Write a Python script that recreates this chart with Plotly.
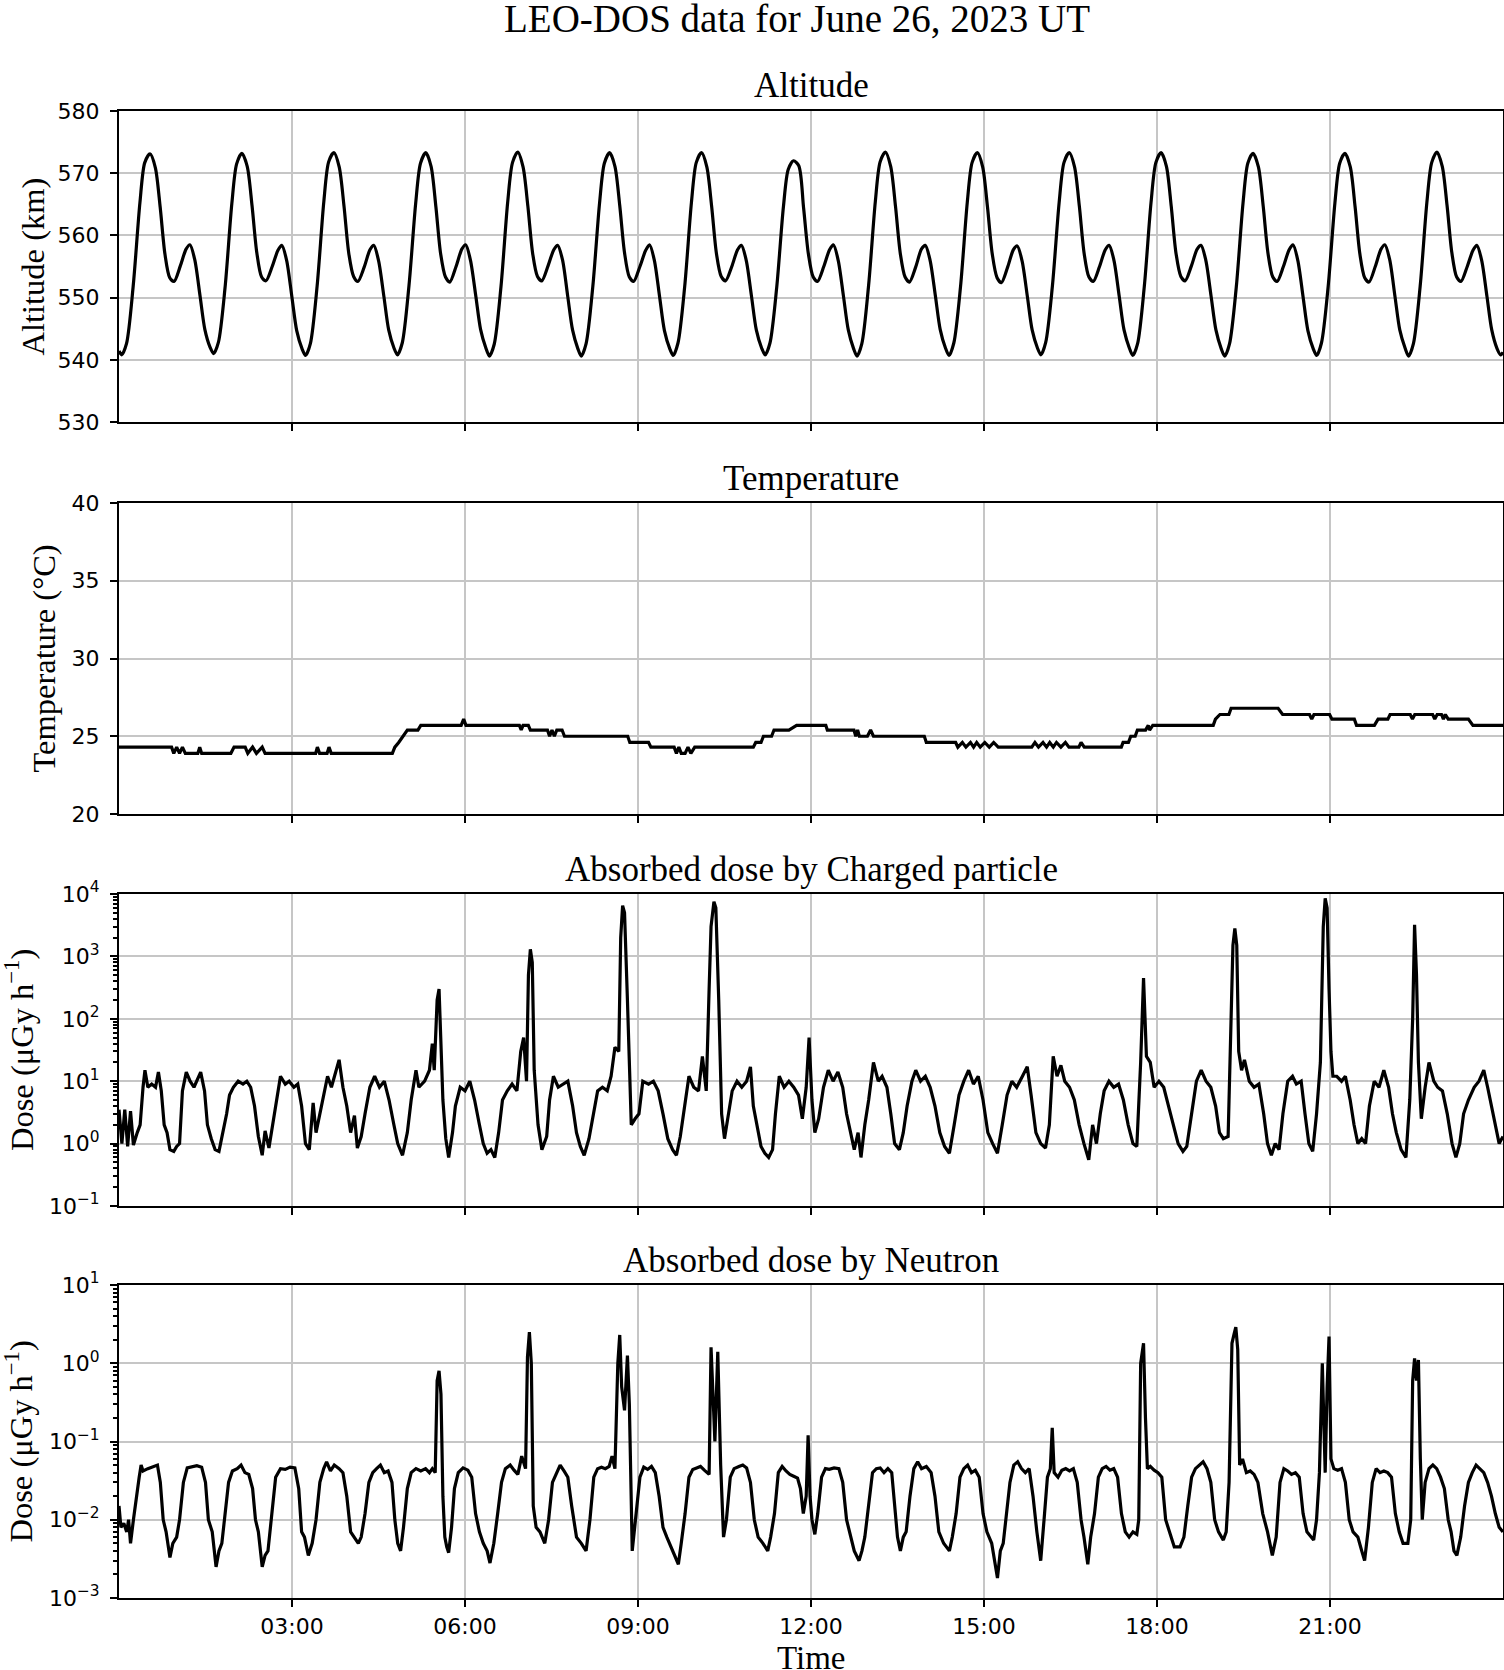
import pandas as pd
import plotly.graph_objects as go

DAY = pd.Timestamp("2023-06-26")
HOUR_TICKS = ["03:00", "06:00", "09:00", "12:00", "15:00", "18:00", "21:00"]
TICK_HOURS = [3, 6, 9, 12, 15, 18, 21]

# ---------------- Altitude (minutes of day, km) ----------------
alt_min = [0,
 2.8, 7.8, 14.8, 21.8, 26.8, 32.3, 37.8, 42.8, 47.8, 52.8, 57.3, 63.8, 69.8, 73.8, 78.8, 84.3, 89.3, 94.8,
 98.4, 103.4, 110.4, 117.4, 122.4, 127.9, 133.4, 138.4, 143.4, 148.4, 152.9, 159.4, 165.4, 169.4, 174.4, 179.9, 184.9, 190.4,
 194.1, 199.1, 206.1, 213.1, 218.1, 223.6, 229.1, 234.1, 239.1, 244.1, 248.6, 255.1, 261.1, 265.1, 270.1, 275.6, 280.6, 286.1,
 289.7, 294.7, 301.7, 308.7, 313.7, 319.2, 324.7, 329.7, 334.7, 339.7, 344.2, 350.7, 356.7, 360.7, 365.7, 371.2, 376.2, 381.7,
 385.4, 390.4, 397.4, 404.4, 409.4, 414.9, 420.4, 425.4, 430.4, 435.4, 439.9, 446.4, 452.4, 456.4, 461.4, 466.9, 471.9, 477.4,
 481.0, 486.0, 493.0, 500.0, 505.0, 510.5, 516.0, 521.0, 526.0, 531.0, 535.5, 542.0, 548.0, 552.0, 557.0, 562.5, 567.5, 573.0,
 576.6, 581.6, 588.6, 595.6, 600.6, 606.1, 611.6, 616.6, 621.6, 626.6, 631.1, 637.6, 643.6, 647.6, 652.6, 658.1, 663.1, 668.6,
 672.3, 677.3, 684.3, 691.3, 696.3, 701.8, 707.3, 712.3, 717.3, 722.3, 726.8, 733.3, 739.3, 743.3, 748.3, 753.8, 758.8, 764.3,
 767.9, 772.9, 779.9, 786.9, 791.9, 797.4, 802.9, 807.9, 812.9, 817.9, 822.4, 828.9, 834.9, 838.9, 843.9, 849.4, 854.4, 859.9,
 863.6, 868.6, 875.6, 882.6, 887.6, 893.1, 898.6, 903.6, 908.6, 913.6, 918.1, 924.6, 930.6, 934.6, 939.6, 945.1, 950.1, 955.6,
 959.2, 964.2, 971.2, 978.2, 983.2, 988.7, 994.2, 999.2, 1004.2, 1009.2, 1013.7, 1020.2, 1026.2, 1030.2, 1035.2, 1040.7, 1045.7, 1051.2,
 1054.8, 1059.8, 1066.8, 1073.8, 1078.8, 1084.3, 1089.8, 1094.8, 1099.8, 1104.8, 1109.3, 1115.8, 1121.8, 1125.8, 1130.8, 1136.3, 1141.3, 1146.8,
 1150.5, 1155.5, 1162.5, 1169.5, 1174.5, 1180.0, 1185.5, 1190.5, 1195.5, 1200.5, 1205.0, 1211.5, 1217.5, 1221.5, 1226.5, 1232.0, 1237.0, 1242.5,
 1246.1, 1251.1, 1258.1, 1265.1, 1270.1, 1275.6, 1281.1, 1286.1, 1291.1, 1296.1, 1300.6, 1307.1, 1313.1, 1317.1, 1322.1, 1327.6, 1332.6, 1338.1,
 1341.8, 1346.8, 1353.8, 1360.8, 1365.8, 1371.3, 1376.8, 1381.8, 1386.8, 1391.8, 1396.3, 1402.8, 1408.8, 1412.8, 1417.8, 1423.3, 1428.3, 1433.8,
 1437.4, 1440]
alt_km = [541.4,
 540.8, 542.6, 551.9, 565.3, 571.7, 573.1, 570.9, 564.6, 557.0, 553.2, 552.6, 555.1, 557.8, 558.5, 556.1, 550.3, 544.9, 542.0,
 541.0, 542.8, 551.7, 565.1, 571.5, 573.2, 571.1, 564.8, 557.2, 553.3, 552.7, 555.0, 557.6, 558.4, 556.0, 550.1, 544.7, 541.8,
 540.7, 542.6, 551.8, 565.4, 571.8, 573.3, 571.0, 564.7, 557.1, 553.4, 552.6, 554.9, 557.7, 558.4, 555.9, 550.2, 544.8, 541.9,
 540.8, 542.7, 551.9, 565.2, 571.6, 573.3, 571.1, 564.6, 557.0, 553.3, 552.5, 555.0, 557.8, 558.5, 556.0, 550.3, 544.9, 541.9,
 540.6, 542.5, 551.7, 565.3, 571.7, 573.4, 571.0, 564.7, 557.1, 553.4, 552.7, 555.1, 557.7, 558.4, 556.1, 550.2, 544.8, 541.8,
 540.6, 542.6, 551.8, 565.2, 571.6, 573.3, 571.1, 564.8, 557.2, 553.3, 552.6, 555.0, 557.6, 558.5, 556.0, 550.1, 544.7, 541.8,
 540.7, 542.7, 551.8, 565.3, 571.7, 573.3, 571.0, 564.7, 557.1, 553.4, 552.7, 555.0, 557.7, 558.4, 556.0, 550.2, 544.8, 541.9,
 540.8, 542.7, 551.6, 564.6, 570.6, 572.0, 571.2, 564.4, 557.0, 553.3, 552.6, 555.0, 557.7, 558.5, 556.0, 550.2, 544.8, 541.8,
 540.6, 542.6, 551.9, 565.4, 571.8, 573.4, 571.1, 564.7, 557.1, 553.3, 552.5, 554.9, 557.8, 558.4, 556.0, 550.3, 544.9, 541.9,
 540.7, 542.7, 551.8, 565.3, 571.7, 573.3, 571.0, 564.6, 557.0, 553.2, 552.4, 554.9, 557.7, 558.3, 555.9, 550.2, 544.8, 541.9,
 540.8, 542.8, 551.9, 565.3, 571.7, 573.3, 571.0, 564.7, 557.1, 553.3, 552.6, 555.0, 557.7, 558.4, 556.0, 550.2, 544.8, 541.9,
 540.7, 542.6, 551.8, 565.3, 571.7, 573.3, 571.1, 564.7, 557.1, 553.4, 552.7, 555.1, 557.8, 558.4, 556.0, 550.2, 544.8, 541.8,
 540.6, 542.6, 551.7, 565.2, 571.6, 573.2, 571.0, 564.7, 557.1, 553.3, 552.6, 555.0, 557.7, 558.5, 556.0, 550.1, 544.7, 541.8,
 540.7, 542.7, 551.8, 565.2, 571.6, 573.2, 571.0, 564.6, 557.0, 553.2, 552.5, 555.0, 557.8, 558.5, 556.1, 550.2, 544.8, 541.9,
 540.6, 542.6, 551.8, 565.3, 571.7, 573.4, 571.1, 564.8, 557.2, 553.3, 552.6, 555.0, 557.6, 558.4, 556.0, 550.2, 544.8, 541.8,
 540.8, 541.2]

# ---------------- Temperature (minutes of day, deg C) ----------------
temp_min = [0, 54.7, 57, 60, 63, 66, 69, 82, 84, 86,
 116.4, 119.7, 131.3, 134, 139, 143, 149, 152,
 204.6, 206.4, 208.7, 216.5, 218.5, 220.8,
 284.4, 287, 291, 295.5, 300, 311, 314,
 356, 358.6, 361,
 416.6, 418.5, 420.4, 425.9, 428, 445.8, 448, 450.5, 453, 455.5, 461, 463.5,
 529.3, 531.5, 551, 553.4, 577.6, 580, 582.5, 585, 589, 592, 595, 599,
 660, 662.5, 668, 670.5, 679, 681.5, 697, 705,
 735.4, 737, 764.7, 766.6, 768.5, 770.3, 778.7, 782, 785, 837.9, 840, 870.5,
 872.8, 877.5, 881.2, 885.9, 889.2, 892.4, 896.1, 900.8, 905.5, 910.1, 914.8,
 949.7, 953, 956.7, 961.4, 965.1, 968.4, 972.1, 975.4, 980, 984.7, 988.4,
 998.7, 1001, 1004.3, 1042.9, 1044.7, 1050.3, 1052.7, 1057.3, 1059.6, 1068.1, 1070.9, 1072.3, 1075.6,
 1138.5, 1140.8, 1145.5, 1154.8, 1157.1, 1206, 1210.7, 1238.7, 1241, 1243.3, 1259.6, 1262, 1285.3, 1287.6,
 1306.2, 1310, 1320.2, 1322.5, 1343.5, 1345.8, 1348.2, 1366.8, 1369, 1371.5, 1376, 1378, 1380, 1383,
 1404, 1408.7, 1440]
temp_c = [24.3, 24.3, 23.9, 24.3, 23.9, 24.3, 23.9, 23.9, 24.3, 23.9,
 23.9, 24.3, 24.3, 23.9, 24.3, 23.9, 24.3, 23.9,
 23.9, 24.3, 23.9, 23.9, 24.3, 23.9,
 23.9, 24.3, 24.6, 25.0, 25.4, 25.4, 25.7,
 25.7, 26.1, 25.7,
 25.7, 25.4, 25.7, 25.7, 25.4, 25.4, 25.0, 25.4, 25.0, 25.4, 25.4, 25.0,
 25.0, 24.6, 24.6, 24.3, 24.3, 23.9, 24.3, 23.9, 23.9, 24.3, 23.9, 24.3,
 24.3, 24.6, 24.6, 25.0, 25.0, 25.4, 25.4, 25.7,
 25.7, 25.4, 25.4, 25.0, 25.4, 25.0, 25.0, 25.4, 25.0, 25.0, 24.6, 24.6,
 24.3, 24.6, 24.3, 24.6, 24.3, 24.6, 24.3, 24.6, 24.3, 24.6, 24.3,
 24.3, 24.6, 24.3, 24.6, 24.3, 24.6, 24.3, 24.6, 24.3, 24.6, 24.3,
 24.3, 24.6, 24.3, 24.3, 24.6, 24.6, 25.0, 25.0, 25.4, 25.4, 25.7, 25.4, 25.7,
 25.7, 26.1, 26.4, 26.4, 26.8, 26.8, 26.4, 26.4, 26.1, 26.4, 26.4, 26.1, 26.1, 25.7,
 25.7, 26.1, 26.1, 26.4, 26.4, 26.1, 26.4, 26.4, 26.1, 26.4, 26.4, 26.1, 26.4, 26.1,
 26.1, 25.7, 25.7]

# ---------------- Charged-particle dose (minutes of day, uGy/h) ----------------
chg_min = [
 0, 3, 6, 9, 12, 15, 19, 22, 25, 27, 30, 34, 38, 41, 44, 47, 50, 53, 57, 60,
 63, 66, 70, 74, 78, 81, 85, 89, 92, 96, 100,
 104, 108, 112, 115, 119, 124, 129, 133, 137, 141,
 145, 149, 152, 156, 160, 164, 168, 173, 177, 182,
 186, 190, 194, 198, 202, 205, 209, 213, 217, 221,
 225, 229, 233, 237, 241, 245, 248, 252, 256, 261,
 266, 271, 276, 281, 286, 290, 295, 300, 304, 309,
 312, 318, 323, 326, 328, 331, 333, 335, 337, 340, 343,
 347, 350, 355, 360, 365, 370, 375, 379, 383, 387,
 391, 395, 399, 404, 409, 414, 418, 421, 424, 426,
 428, 430, 432, 436, 440, 445, 448, 452, 457, 462,
 467, 472, 476, 480, 484, 489, 494, 498, 503, 508,
 512, 516, 520, 522, 524, 526, 529, 533, 537, 541,
 545, 551, 556, 561, 566, 571, 576, 580, 584, 589,
 593, 598, 603, 607, 611, 614, 616, 619, 621, 624, 627, 630,
 634, 638, 643, 648, 653, 657, 660, 664, 668, 672,
 676, 680, 683, 687, 692, 697, 702, 707, 711, 715,
 718, 721, 724, 728, 733, 738, 743, 748, 753, 757,
 761, 765, 769, 772, 776, 780, 785, 790, 794, 799,
 803, 807, 812, 816, 820, 825, 829, 834, 839, 844,
 849, 854, 859, 864, 869, 874, 879, 884, 889, 894,
 899, 904, 909, 914, 919, 924, 929, 934, 940, 945,
 949, 954, 959, 964, 968, 972, 976, 980, 984, 989,
 994, 999, 1004, 1009, 1013, 1017, 1021, 1025, 1030, 1035,
 1040, 1045, 1050, 1055, 1059,
 1063, 1066, 1069, 1073, 1077, 1082, 1087, 1092, 1097, 1102,
 1107, 1111, 1116, 1121, 1126, 1131, 1136, 1141, 1145, 1149,
 1154, 1157, 1159, 1161, 1163, 1165, 1168, 1171, 1176, 1181,
 1186, 1191, 1195, 1199, 1203, 1207, 1211, 1216, 1221, 1225,
 1230, 1234, 1238, 1242, 1246, 1250, 1253, 1255, 1257, 1259,
 1261, 1263, 1267, 1272, 1276, 1281, 1285, 1289, 1293, 1297,
 1301, 1306, 1311, 1316, 1321, 1325, 1329, 1334, 1339, 1343,
 1346, 1348, 1350, 1352, 1355, 1359, 1363, 1368, 1372, 1377,
 1382, 1387, 1391, 1395, 1399, 1404, 1410, 1415, 1420, 1424,
 1428, 1432, 1436, 1440]
chg_dose = [
 3.5, 1.0, 3.5, 0.9, 3.3, 0.95, 1.5, 2.0, 8, 15, 8, 9, 8, 14, 7, 2, 1.5, 0.8, 0.75, 0.9,
 1.0, 7, 14, 10, 8, 10, 14, 7, 2, 1.2, 0.8,
 0.75, 1.5, 3, 6, 8, 10, 9, 10, 8, 4,
 1.3, 0.65, 1.6, 0.85, 2, 5, 12, 9, 10, 8,
 9, 4, 1.0, 0.8, 4.5, 1.5, 3, 6, 12, 8,
 13, 22, 8, 4, 1.5, 2.8, 0.85, 1.3, 3, 8,
 12, 8, 10, 5, 2, 1.0, 0.65, 1.5, 5, 15,
 8, 10, 15, 40, 15, 200, 300, 30, 5, 1.2, 0.6,
 1.5, 4, 8, 7, 10, 5, 2, 1.0, 0.7, 0.8,
 0.6, 1.5, 5, 7, 9, 7, 30, 50, 10, 500,
 1300, 800, 15, 2, 0.8, 1.3, 5, 12, 8, 9,
 10, 4, 1.5, 0.9, 0.65, 1.2, 3, 7, 8, 7,
 12, 35, 30, 2000, 6500, 5000, 200, 2, 2.5, 3,
 10, 9, 10, 7, 3, 1.2, 0.8, 0.65, 1.3, 5,
 12, 8, 7, 25, 7, 300, 3000, 7500, 6000, 200, 3, 1.2,
 3, 7, 10, 8, 10, 17, 4, 2, 0.9, 0.7,
 0.6, 0.8, 3, 12, 8, 10, 8, 6, 2.5, 8,
 50, 5, 1.5, 2.5, 8, 15, 10, 14, 8, 3,
 1.5, 0.8, 1.5, 0.6, 2, 5, 20, 10, 12, 8,
 3, 1.0, 0.8, 1.5, 4, 10, 15, 10, 12, 8,
 4, 1.5, 0.9, 0.7, 2, 6, 10, 15, 9, 12,
 5, 1.5, 1.0, 0.7, 2, 6, 10, 8, 12, 17,
 6, 1.5, 1.0, 0.85, 2, 25, 12, 18, 10, 8,
 5, 2, 1.0, 0.55, 2, 1.0, 3, 7, 10, 8,
 9, 5, 2, 1.0, 0.9,
 20, 450, 25, 20, 8, 10, 8, 4, 2, 1.0,
 0.75, 0.9, 3, 10, 15, 10, 8, 4, 1.5, 1.2,
 1.3, 100, 1500, 2800, 1500, 30, 15, 22, 10, 8,
 9, 3, 1.0, 0.65, 1.0, 0.8, 3, 10, 12, 9,
 10, 3, 1.0, 0.75, 3, 20, 3000, 8500, 6000, 300,
 30, 12, 12, 10, 12, 5, 2, 1.0, 1.2, 1.0,
 4, 10, 8, 15, 8, 3, 1.5, 0.8, 0.6, 5,
 100, 3200, 500, 20, 2.5, 8, 20, 10, 8, 7,
 3, 1.0, 0.6, 1.0, 3, 5, 8, 10, 15, 8,
 4, 2, 1.0, 1.3]

# ---------------- Neutron dose (minutes of day, uGy/h) ----------------
neu_min = [
 0, 2, 5, 8, 10, 12, 15, 18, 21, 23,
 25, 30, 35, 40, 43, 46, 49, 53, 56, 60,
 63, 67, 71, 76, 81, 86, 90, 93, 97, 101,
 104, 107, 110, 114, 118, 123, 127, 131, 135, 139,
 142, 145, 149, 152, 155, 159, 163, 168, 173, 178,
 183, 187, 190, 193, 197, 201, 205, 209, 213, 216,
 220, 224, 229, 233, 237, 241, 245, 249, 252, 256,
 260, 264, 268, 272, 276, 280, 284, 287, 290, 293,
 296, 300, 304, 309, 314, 319, 323, 326, 329, 331,
 333, 335, 337, 339, 341, 343, 346, 349, 353, 358,
 363, 367, 371, 375, 379, 383, 386, 390, 394, 398,
 402, 407, 411, 415, 419, 423, 425, 427, 429, 431,
 434, 438, 443, 447, 451, 455, 459, 463, 467, 471,
 476, 481, 486, 490, 494, 498, 502, 506, 510, 513,
 516, 519, 521, 523, 526, 529, 531, 534, 538, 542,
 546, 550, 554, 558, 562, 566, 570, 574, 578, 582,
 585, 589, 593, 597, 601, 605, 609, 612, 614, 616,
 618, 620, 623, 626, 629, 632, 636, 640, 645, 649,
 653, 657, 661, 665, 670, 675, 678, 682, 686, 690,
 694, 698, 702, 706, 709, 712, 715, 717, 719, 721,
 724, 727, 731, 735, 739, 744, 749, 753, 757, 761,
 765, 770, 773, 776, 780, 784, 788, 792, 796, 800,
 804, 807, 810, 813, 816, 819, 823, 827, 831, 835,
 840, 845, 849, 853, 858, 864, 867, 871, 875, 879,
 883, 887, 891, 895, 899, 903, 908, 914, 917, 920,
 923, 927, 931, 935, 939, 943, 947, 951, 955, 959,
 963, 966, 969, 971, 973, 977, 981, 985, 989, 993,
 997, 1001, 1004, 1008, 1011, 1015, 1019, 1023, 1027, 1031,
 1035, 1039, 1043, 1047, 1051, 1055, 1059, 1061, 1063, 1066,
 1068, 1070, 1073, 1077, 1081, 1085, 1089, 1093,
 1098, 1104, 1108, 1112, 1116, 1120, 1124, 1128, 1132, 1136,
 1140, 1144, 1149, 1152, 1155, 1158, 1160, 1162, 1164, 1166,
 1169, 1173, 1177, 1181, 1185, 1190, 1195, 1200, 1204, 1208,
 1212, 1216, 1220, 1224, 1228, 1232, 1236, 1240, 1243, 1246,
 1249, 1252, 1255, 1257, 1259, 1261, 1264, 1268, 1272, 1276,
 1280, 1284, 1289, 1293, 1296, 1300, 1304, 1308, 1312, 1316,
 1320, 1324, 1328, 1332, 1336, 1341, 1344, 1346, 1348, 1350,
 1352, 1354, 1356, 1359, 1363, 1367, 1371, 1375, 1379, 1383,
 1386, 1389, 1392, 1396, 1400, 1404, 1408, 1412, 1416, 1420,
 1424, 1428, 1432, 1436, 1440]
neu_dose = [
 0.015, 0.008, 0.009, 0.007, 0.010, 0.005, 0.010, 0.020, 0.035, 0.050,
 0.042, 0.045, 0.047, 0.050, 0.030, 0.010, 0.007, 0.0033, 0.005, 0.006,
 0.010, 0.030, 0.046, 0.048, 0.049, 0.047, 0.030, 0.010, 0.007, 0.0025,
 0.004, 0.005, 0.010, 0.030, 0.042, 0.045, 0.050, 0.040, 0.038, 0.025,
 0.010, 0.007, 0.0025, 0.0035, 0.004, 0.012, 0.035, 0.045, 0.044, 0.047,
 0.046, 0.025, 0.007, 0.006, 0.0035, 0.005, 0.010, 0.030, 0.045, 0.055,
 0.042, 0.050, 0.045, 0.040, 0.020, 0.007, 0.006, 0.005, 0.006, 0.012,
 0.030, 0.040, 0.045, 0.050, 0.040, 0.042, 0.030, 0.010, 0.005, 0.004,
 0.008, 0.025, 0.040, 0.045, 0.042, 0.045, 0.040, 0.045, 0.040, 0.6,
 0.8, 0.4, 0.02, 0.006, 0.0045, 0.0038, 0.008, 0.025, 0.040, 0.046,
 0.043, 0.035, 0.012, 0.007, 0.005, 0.004, 0.0028, 0.005, 0.012, 0.030,
 0.045, 0.050, 0.043, 0.038, 0.065, 0.045, 1.2, 2.5, 1.0, 0.015,
 0.008, 0.007, 0.005, 0.010, 0.030, 0.040, 0.050, 0.042, 0.035, 0.015,
 0.006, 0.005, 0.004, 0.010, 0.035, 0.045, 0.047, 0.045, 0.048, 0.065,
 0.045, 1.0, 2.3, 0.5, 0.25, 1.25, 0.3, 0.004, 0.012, 0.035,
 0.047, 0.044, 0.048, 0.040, 0.020, 0.008, 0.006, 0.0045, 0.0035, 0.0027,
 0.005, 0.012, 0.035, 0.044, 0.046, 0.048, 0.043, 0.040, 0.038, 1.6,
 0.5, 0.1, 1.4, 0.05, 0.006, 0.010, 0.035, 0.045, 0.048, 0.050,
 0.046, 0.030, 0.010, 0.006, 0.005, 0.004, 0.006, 0.012, 0.040, 0.048,
 0.042, 0.038, 0.036, 0.034, 0.025, 0.012, 0.020, 0.12, 0.020, 0.010,
 0.0065, 0.012, 0.035, 0.045, 0.044, 0.046, 0.045, 0.030, 0.010, 0.006,
 0.004, 0.003, 0.004, 0.006, 0.015, 0.040, 0.045, 0.046, 0.040, 0.045,
 0.040, 0.015, 0.006, 0.004, 0.006, 0.007, 0.020, 0.045, 0.055, 0.045,
 0.048, 0.040, 0.020, 0.007, 0.005, 0.004, 0.006, 0.012, 0.035, 0.045,
 0.050, 0.040, 0.043, 0.035, 0.012, 0.007, 0.005, 0.0018, 0.004, 0.005,
 0.010, 0.030, 0.050, 0.055, 0.045, 0.040, 0.045, 0.020, 0.007, 0.003,
 0.012, 0.035, 0.045, 0.15, 0.040, 0.035, 0.043, 0.045, 0.042, 0.045,
 0.030, 0.010, 0.006, 0.0027, 0.006, 0.012, 0.035, 0.045, 0.048, 0.043,
 0.045, 0.035, 0.012, 0.007, 0.006, 0.007, 0.0065, 0.010, 1.0, 1.8,
 0.2, 0.045, 0.048, 0.043, 0.040, 0.035, 0.010, 0.007,
 0.0045, 0.0045, 0.006, 0.015, 0.035, 0.045, 0.050, 0.055, 0.045, 0.030,
 0.010, 0.007, 0.0055, 0.007, 0.030, 1.8, 2.3, 2.9, 1.5, 0.05,
 0.060, 0.040, 0.042, 0.038, 0.030, 0.012, 0.007, 0.0035, 0.006, 0.030,
 0.045, 0.042, 0.038, 0.040, 0.035, 0.012, 0.007, 0.006, 0.0055, 0.010,
 0.040, 1.0, 0.04, 0.5, 2.2, 0.06, 0.045, 0.043, 0.045, 0.030,
 0.010, 0.007, 0.006, 0.004, 0.003, 0.008, 0.030, 0.045, 0.040, 0.042,
 0.040, 0.035, 0.012, 0.007, 0.005, 0.005, 0.010, 0.6, 1.15, 0.6,
 1.1, 0.06, 0.010, 0.030, 0.045, 0.050, 0.045, 0.035, 0.025, 0.010,
 0.007, 0.004, 0.0035, 0.006, 0.015, 0.030, 0.040, 0.050, 0.045, 0.040,
 0.030, 0.020, 0.012, 0.008, 0.007]

assert len(alt_min) == len(alt_km)
assert len(temp_min) == len(temp_c)
assert len(chg_min) == len(chg_dose)
assert len(neu_min) == len(neu_dose)


def times(mins):
    return [DAY + pd.Timedelta(minutes=float(m)) for m in mins]


W, H = 1504, 1670


def fx(px):
    return px / W


def fy(py):
    return 1 - py / H


X0, X1 = 119, 1503
PANELS = [(111, 422), (503, 814), (894, 1206), (1285, 1598)]
TITLES = ["Altitude", "Temperature", "Absorbed dose by Charged particle",
          "Absorbed dose by Neutron"]
DOSE_LABEL = "Dose (\u03bcGy h<sup>\u22121</sup>)"
YLABELS = ["Altitude (km)", "Temperature (\u00b0C)", DOSE_LABEL, DOSE_LABEL]
YLABEL_X = [33, 44, 19, 19]

SERIF = "Liberation Serif"
TICKFONT = dict(family="DejaVu Sans", size=22, color="black")
GRID = "#c6c6c6"

fig = go.Figure()
series = [(alt_min, alt_km, "spline"), (temp_min, temp_c, "linear"),
          (chg_min, chg_dose, "linear"), (neu_min, neu_dose, "linear")]
for i, (tm, vals, shape) in enumerate(series, start=1):
    line = dict(color="black", width=3.2, shape=shape)
    if shape == "spline":
        line["smoothing"] = 0.8
    fig.add_trace(go.Scatter(x=times(tm), y=vals, mode="lines", line=line,
                             xaxis="x" if i == 1 else f"x{i}",
                             yaxis="y" if i == 1 else f"y{i}",
                             showlegend=False, hoverinfo="skip"))


def sup(e):
    s = str(e).replace("-", "\u2212")
    return f"10<sup>{s}</sup>"


def minor_vals(e0, e1):
    return [k * 10.0 ** e for e in range(e0, e1) for k in range(2, 10)]


layout = dict(width=W, height=H, autosize=False,
              margin=dict(l=0, r=0, t=0, b=0, pad=0, autoexpand=False),
              paper_bgcolor="white", plot_bgcolor="white",
              showlegend=False)

tick_dates = [DAY + pd.Timedelta(hours=h) for h in TICK_HOURS]
for i, (top, bot) in enumerate(PANELS, start=1):
    xk = "xaxis" if i == 1 else f"xaxis{i}"
    yk = "yaxis" if i == 1 else f"yaxis{i}"
    yref = "y" if i == 1 else f"y{i}"
    xref = "x" if i == 1 else f"x{i}"
    xa = dict(type="date", range=[DAY, DAY + pd.Timedelta(days=1)],
              tickmode="array", tickvals=tick_dates, ticktext=HOUR_TICKS,
              ticks="outside", ticklen=7, tickwidth=2, tickcolor="black",
              showline=True, linecolor="black", linewidth=2, mirror=True,
              showgrid=True, gridcolor=GRID, gridwidth=1.5, zeroline=False,
              tickfont=TICKFONT, domain=[fx(X0), fx(X1)], anchor=yref,
              showticklabels=(i == 4), ticklabelstandoff=1, automargin=False)
    if i > 1:
        xa["matches"] = "x"
    layout[xk] = xa
    ya = dict(domain=[fy(bot), fy(top)], anchor=xref,
              ticks="outside", ticklen=7, tickwidth=2, tickcolor="black",
              showline=True, linecolor="black", linewidth=2, mirror=True,
              showgrid=True, gridcolor=GRID, gridwidth=1.5, zeroline=False,
              tickfont=TICKFONT, ticklabelstandoff=6, automargin=False)
    if i == 1:
        ya.update(range=[530, 580], tickmode="array",
                  tickvals=[530, 540, 550, 560, 570, 580])
    elif i == 2:
        ya.update(range=[20, 40], tickmode="array", tickvals=[20, 25, 30, 35, 40])
    elif i == 3:
        ya.update(type="log", range=[-1, 4], tickmode="array",
                  tickvals=[10.0 ** e for e in range(-1, 5)],
                  ticktext=[sup(e) for e in range(-1, 5)],
                  minor=dict(tickmode="array", tickvals=minor_vals(-1, 4),
                             ticks="outside", ticklen=4, tickwidth=1.5,
                             tickcolor="black", showgrid=False))
    else:
        ya.update(type="log", range=[-3, 1], tickmode="array",
                  tickvals=[10.0 ** e for e in range(-3, 2)],
                  ticktext=[sup(e) for e in range(-3, 2)],
                  minor=dict(tickmode="array", tickvals=minor_vals(-3, 1),
                             ticks="outside", ticklen=4, tickwidth=1.5,
                             tickcolor="black", showgrid=False))
    layout[yk] = ya

annotations = [dict(text="LEO-DOS data for June 26, 2023 UT", xref="paper", yref="paper",
                    x=fx(797), y=fy(42), xanchor="center", yanchor="bottom",
                    showarrow=False, font=dict(family=SERIF, size=39, color="black"))]
for i, (top, bot) in enumerate(PANELS):
    annotations.append(dict(text=TITLES[i], xref="paper", yref="paper",
                            x=fx((X0 + X1) / 2), y=fy(top), yshift=3.5,
                            xanchor="center", yanchor="bottom", showarrow=False,
                            font=dict(family=SERIF, size=35, color="black")))
    annotations.append(dict(text=YLABELS[i], xref="paper", yref="paper",
                            x=fx(YLABEL_X[i]), y=fy((top + bot) / 2),
                            xanchor="center", yanchor="middle", textangle=-90,
                            showarrow=False,
                            font=dict(family=SERIF, size=32.5, color="black")))
annotations.append(dict(text="Time", xref="paper", yref="paper",
                        x=fx((X0 + X1) / 2), y=fy(1678), xanchor="center",
                        yanchor="bottom", showarrow=False,
                        font=dict(family=SERIF, size=33, color="black")))
layout["annotations"] = annotations

fig.update_layout(**layout)
fig.write_html("out.html", config=dict(responsive=False, displayModeBar=False),
               post_script="document.body.style.margin='0px';")
